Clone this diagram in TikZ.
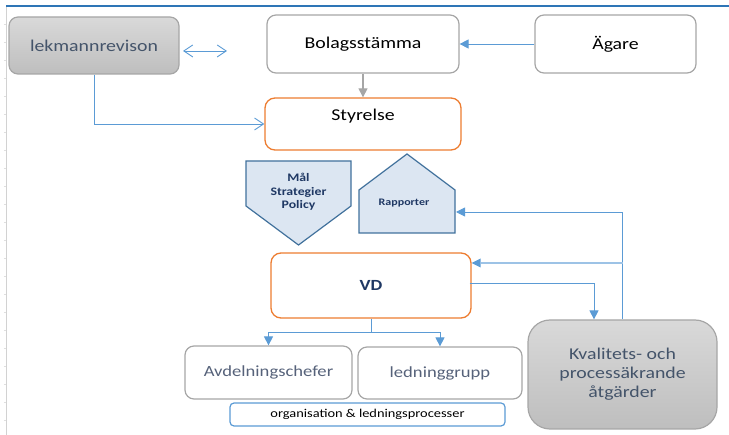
\documentclass[tikz,border=0pt]{standalone}
\usepackage{fontspec}
\setmainfont{Carlito}[FakeStretch=1.2]
\usetikzlibrary{arrows.meta,positioning}
\definecolor{lblue}{HTML}{5B9BD5}
\definecolor{pblue}{HTML}{9DC3E6}
\definecolor{topblue}{HTML}{2E75B6}
\definecolor{orng}{HTML}{ED7D31}
\definecolor{gborder}{HTML}{A6A6A6}
\definecolor{gtop}{HTML}{D9D9D9}
\definecolor{gbot}{HTML}{BEBEBE}
\definecolor{slate}{HTML}{44546A}
\definecolor{slatel}{HTML}{56627A}
\definecolor{navy}{HTML}{1F3864}
\definecolor{shfill}{HTML}{DCE6F2}
\definecolor{shdraw}{HTML}{41719C}
\tikzset{
  graybox/.style={draw=gborder, line width=1.2pt, rounded corners=9pt, top color=gtop, bottom color=gbot, text=slate, font=\fontsize{16.5}{19}\selectfont, align=center, inner sep=0pt},
  whitebox/.style={draw=gborder, line width=1.2pt, rounded corners=9pt, fill=white, text=black, font=\fontsize{16.5}{19}\selectfont, align=center, inner sep=0pt},
  orangebox/.style={draw=orng, line width=1.3pt, rounded corners=10pt, fill=white, inner sep=0pt},
  lowbox/.style={draw=gborder, line width=1.2pt, rounded corners=9pt, fill=white, text=slatel, font=\fontsize{15.5}{18}\selectfont, inner sep=0pt},
  bluebox/.style={draw=lblue, line width=1.2pt, rounded corners=4pt, fill=white, text=black, font=\fontsize{12}{14}\selectfont, inner sep=0pt},
  shapeline/.style={draw=shdraw, line width=1.2pt, fill=shfill},
  conn/.style={draw=lblue, line width=0.9pt},
  tipf/.style={-{Triangle[length=9pt,width=9pt,color=lblue]}},
  barb/.style={{Straight Barb[length=9pt,width=12pt]}-{Straight Barb[length=9pt,width=12pt]}},
}
\begin{document}
\begin{tikzpicture}[x=1pt,y=-1pt]
\useasboundingbox (0,0) rectangle (729,435);
% page guides
\draw[gray!35, line width=0.8pt] (6,6) -- (6,435);
\foreach \k in {1,...,23} \draw[gray!25, line width=0.5pt] (3.5,18*\k+6) -- (6,18*\k+6);
\draw[topblue, line width=1.2pt] (6,6) -- (729,6);

% boxes
\node[graybox, minimum width=170pt, minimum height=57pt] (lek) at (94,45.5) {lekmannrevison};
\node[whitebox, minimum width=192pt, minimum height=58pt] (bol) at (363,44) {Bolagsstämma};
\node[whitebox, minimum width=161pt, minimum height=58pt] (aga) at (615.5,44) {Ägare};
\node[orangebox, minimum width=196pt, minimum height=52pt,
      label={[anchor=center, yshift=-19pt, font=\fontsize{16.5}{19}\selectfont, text=black]north:Styrelse}] (sty) at (363,124) {};
\node[orangebox, minimum width=200pt, minimum height=65pt, text=navy, font=\bfseries\fontsize{15.5}{18}\selectfont] (vd) at (371,285.5) {VD};
\node[lowbox, minimum width=167pt, minimum height=53pt] (avd) at (268.5,372.5) {Avdelningschefer};
\node[lowbox, minimum width=164pt, minimum height=52pt] (led) at (440,373) {ledninggrupp};
\node[bluebox, minimum width=275pt, minimum height=23pt] (org) at (367.5,414.5) {organisation \& ledningsprocesser};
\node[graybox, rounded corners=22pt, minimum width=189pt, minimum height=109pt] (kva) at (622.5,374.5) {Kvalitets- och\\processäkrande\\åtgärder};

% pentagon shapes
\path[shapeline] (246,161) -- (351,161) -- (351,206) -- (298.5,245) -- (246,206) -- cycle;
\node[text=navy, font=\bfseries\fontsize{11.5}{13.5}\selectfont, align=center] (mal) at (298.5,192) {Mål\\Strategier\\Policy};
\path[shapeline] (359,233) -- (359,190) -- (407,154) -- (455,190) -- (455,233) -- cycle;
\node[text=navy, font=\bfseries\fontsize{10}{12}\selectfont] (rap) at (404,203) {Rapporter};
\coordinate (rapE) at (456,212);

% connectors
\draw[conn, tipf] (aga.west) -- (bol.east);
\draw[draw=gborder, line width=1.2pt, -{Triangle[length=9pt,width=9pt]}] (bol.south) -- (sty.north);
\coordinate (dl) at (183,51);
\coordinate (dr) at (227,51);
\draw[conn, barb] (dl) -- (dr);
\draw[conn, -{Straight Barb[length=9pt,width=12pt]}] (lek.south) |- (sty.west);
\draw[conn, tipf] (kva.north) |- (rapE);
\coordinate (j1) at (622.5,263);
\draw[draw=pblue, line width=2pt, -{Triangle[length=9pt,width=9pt,color=lblue,line width=0pt]}] (j1) -- (vd.east |- j1);
\draw[conn, tipf] ([xshift=-2pt,yshift=2.5pt]vd.east) -| ([xshift=-28.5pt]kva.north);
\draw[conn] (vd.south) -- ++(0,14) coordinate (vj);
\draw[conn, tipf] (vj) -| (avd.north);
\draw[conn, tipf] (vj) -| (led.north);
\end{tikzpicture}
\end{document}
